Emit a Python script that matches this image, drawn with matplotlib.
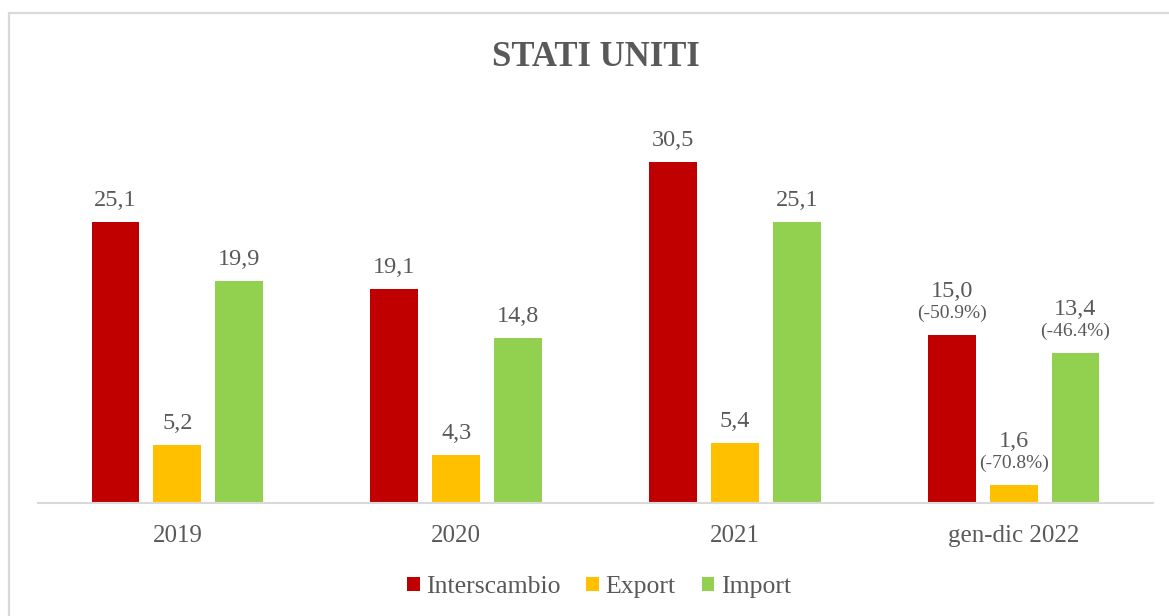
import numpy as np
import matplotlib.pyplot as plt
from matplotlib.patches import Rectangle, Patch

# Dati (miliardi)
anni = ['2019', '2020', '2021', 'gen-dic 2022']
interscambio = [25.1, 19.1, 30.5, 15.0]
export = [5.2, 4.3, 5.4, 1.6]
import_ = [19.9, 14.8, 25.1, 13.4]
# variazioni percentuali per l'ultimo periodo
var_2022 = ['(-50.9%)', '(-70.8%)', '(-46.4%)']

serie = [('Interscambio', interscambio, '#C00000'),
         ('Export', export, '#FFC000'),
         ('Import', import_, '#92D050')]

grigio = '#595959'
plt.rcParams['font.family'] = ['Liberation Serif', 'DejaVu Serif']

W, H = 1169, 616
fig = plt.figure(figsize=(W / 100, H / 100), dpi=100)

# cornice del grafico
fig.patches.append(Rectangle((9 / W, -0.2), 1.5, 1.2 - 13 / H,
                             transform=fig.transFigure, fill=False,
                             edgecolor='#d9d9d9', linewidth=1.6))

ax = fig.add_axes([38 / W, (H - 503) / H, (1153 - 38) / W, (503 - 130) / H])

x = np.arange(len(anni))
larghezza = 0.172
passo = 0.222

for i, (nome, valori, colore) in enumerate(serie):
    pos = x + (i - 1) * passo
    ax.bar(pos, valori, width=larghezza, color=colore, label=nome)
    for j, (px, v) in enumerate(zip(pos, valori)):
        testo = f'{v:.1f}'.replace('.', ',')
        if j == len(anni) - 1:
            ax.annotate(var_2022[i], (px, v), xytext=(0, 12.2),
                        textcoords='offset points', ha='center',
                        va='baseline', fontsize=14, color=grigio)
            ax.annotate(testo, (px, v), xytext=(0, 27.4),
                        textcoords='offset points', ha='center',
                        va='baseline', fontsize=17.5, color=grigio)
        else:
            ax.annotate(testo, (px, v), xytext=(0, 11.5),
                        textcoords='offset points', ha='center',
                        va='baseline', fontsize=17.5, color=grigio)

ax.set_xlim(-0.5, 3.5)
ax.set_ylim(0, (503 - 130) / 11.18)
ax.set_xticks(x)
ax.set_xticklabels(anni, fontsize=18, color=grigio)
ax.tick_params(axis='x', length=0, pad=16)
ax.set_yticks([])
for lato in ['top', 'right', 'left']:
    ax.spines[lato].set_visible(False)
ax.spines['bottom'].set_color('#d9d9d9')
ax.spines['bottom'].set_linewidth(1.5)

fig.text(596 / W, 1 - 57 / H, 'STATI UNITI', ha='center', va='center',
         fontsize=25, fontweight='bold', color=grigio)

maniglie = [Patch(facecolor=c, label=n) for n, _, c in serie]
leg = fig.legend(handles=maniglie, loc='center', bbox_to_anchor=(599 / W, 1 - 587 / H),
                 ncol=3, frameon=False, fontsize=18.5, handlelength=0.5,
                 handleheight=0.5, handletextpad=0.25, columnspacing=1.0)
for t in leg.get_texts():
    t.set_color(grigio)

fig.savefig('out.png', dpi=100, facecolor='white')
